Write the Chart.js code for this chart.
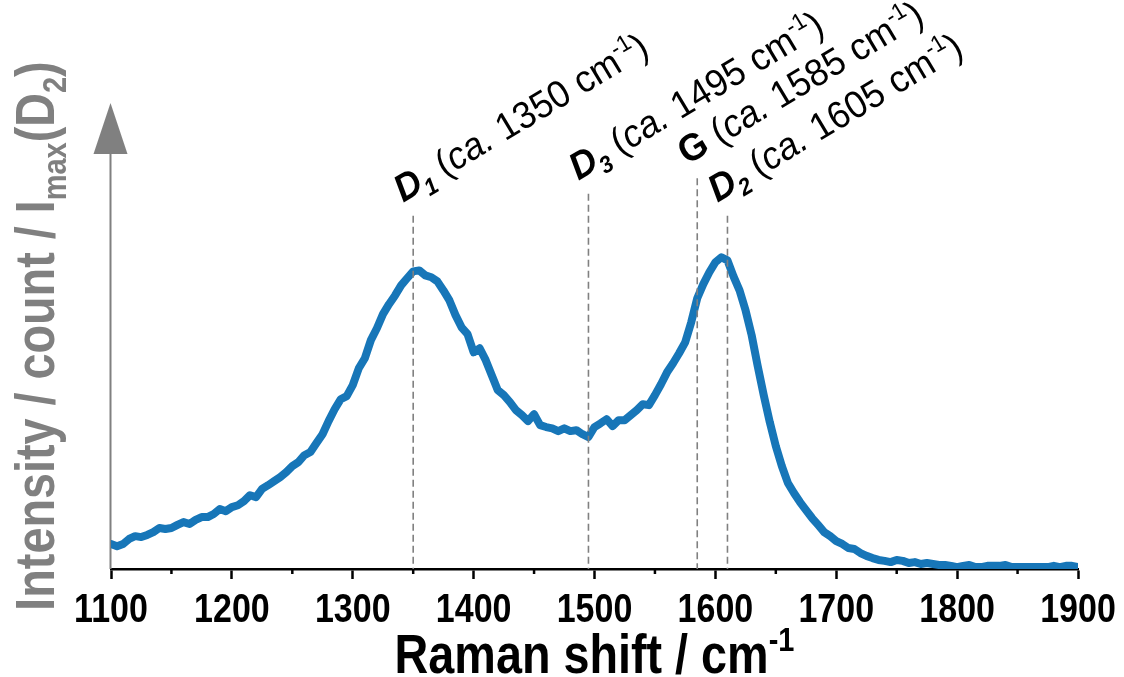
<!DOCTYPE html>
<html>
<head>
<meta charset="utf-8">
<title>Raman spectrum</title>
<script src="https://cdn.jsdelivr.net/npm/chart.js@4.4.1/dist/chart.umd.min.js"></script>
<style>
  html, body { margin: 0; padding: 0; background: #ffffff; }
  canvas { display: block; }
</style>
</head>
<body>
<canvas id="raman" width="1124" height="677"></canvas>
<script>
// Raman shift (cm-1) and normalised intensity I / Imax(D2)
const ramanShift = [
  1100,1105,1110,1115,1120,1125,1130,1135,1140,1145,
  1150,1155,1160,1165,1170,1175,1180,1185,1190,1195,
  1200,1205,1210,1215,1220,1225,1230,1235,1240,1245,
  1250,1255,1260,1265,1270,1275,1280,1285,1290,1295,
  1300,1305,1310,1315,1320,1325,1330,1335,1340,1345,
  1350,1355,1360,1365,1370,1375,1380,1385,1390,1395,
  1400,1405,1410,1415,1420,1425,1430,1435,1440,1445,
  1450,1455,1460,1465,1470,1475,1480,1485,1490,1495,
  1500,1505,1510,1515,1520,1525,1530,1535,1540,1545,
  1550,1555,1560,1565,1570,1575,1580,1585,1590,1595,
  1600,1605,1610,1615,1620,1625,1630,1635,1640,1645,
  1650,1655,1660,1665,1670,1675,1680,1685,1690,1695,
  1700,1705,1710,1715,1720,1725,1730,1735,1740,1745,
  1750,1755,1760,1765,1770,1775,1780,1785,1790,1795,
  1800,1805,1810,1815,1820,1825,1830,1835,1840,1845,
  1850,1855,1860,1865,1870,1875,1880,1885,1890,1895,
  1900
];

const intensity = [
  0.080,0.073,0.080,0.096,0.105,0.102,0.109,0.118,0.131,0.128,
  0.131,0.141,0.150,0.144,0.157,0.166,0.166,0.176,0.192,0.185,
  0.198,0.204,0.217,0.236,0.230,0.256,0.268,0.281,0.294,0.310,
  0.329,0.342,0.364,0.374,0.403,0.431,0.473,0.511,0.543,0.553,
  0.588,0.642,0.674,0.732,0.770,0.815,0.847,0.875,0.907,0.930,
  0.952,0.955,0.939,0.933,0.920,0.891,0.859,0.812,0.773,0.751,
  0.693,0.706,0.668,0.620,0.572,0.556,0.534,0.508,0.492,0.473,
  0.495,0.460,0.454,0.450,0.441,0.450,0.441,0.444,0.431,0.422,
  0.454,0.466,0.479,0.457,0.476,0.476,0.492,0.508,0.527,0.524,
  0.556,0.591,0.629,0.658,0.690,0.725,0.789,0.866,0.911,0.949,
  0.981,0.997,0.987,0.936,0.891,0.827,0.748,0.649,0.556,0.470,
  0.393,0.329,0.275,0.243,0.214,0.188,0.163,0.141,0.118,0.105,
  0.089,0.080,0.067,0.064,0.051,0.042,0.035,0.029,0.026,0.022,
  0.029,0.026,0.019,0.022,0.016,0.019,0.016,0.013,0.013,0.010,
  0.006,0.010,0.013,0.006,0.006,0.010,0.010,0.010,0.013,0.006,
  0.006,0.006,0.006,0.006,0.006,0.006,0.010,0.006,0.010,0.010,
  0.006
];

// Band positions marked with dashed lines, and their labels
const bandNames     = ['D', 'D', 'G', 'D'];
const bandSubscript = ['1', '3', '',  '2'];
const bandLabelPos  = ['1350', '1495', '1585', '1605'];
const bandLinePos   = [1350, 1495, 1585, 1610];
const bandLineTop   = [1.13, 1.20, 1.25, 1.13];

const xTicks = [1100, 1200, 1300, 1400, 1500, 1600, 1700, 1800, 1900];
const xMinorTicks = [1150, 1250, 1350, 1450, 1550, 1650, 1750, 1850];

const FONT = "'Liberation Sans', Arial, Helvetica, sans-serif";
const LINE_COLOR = '#1776b8';
const GREY = '#808080';
const NARROW = 0.85;   // horizontal condensing of the axis text

function runFont(r, size) {
  return (r.italic ? 'italic ' : '') + (r.bold ? 'bold ' : '') + size + 'px ' + FONT;
}

// Draw a sequence of text runs (with sub/superscripts) from (x, y) on the baseline
function drawRuns(ctx, runs, x, y, size, measureOnly) {
  let cx = x;
  for (const r of runs) {
    const s = (r.sub || r.sup) ? size * 0.62 : size;
    ctx.font = runFont(r, s);
    const dy = r.sub ? size * 0.22 : (r.sup ? -size * 0.40 : 0);
    if (!measureOnly) ctx.fillText(r.t, cx, y + dy);
    cx += ctx.measureText(r.t).width;
  }
  return cx - x;
}

const axisDecor = {
  id: 'axisDecor',
  beforeDatasetsDraw(chart) {
    const { ctx, chartArea, scales } = chart;
    const x = scales.x;
    ctx.save();
    // minor ticks
    ctx.strokeStyle = '#000';
    ctx.lineWidth = 2.5;
    for (const v of xMinorTicks) {
      const px = x.getPixelForValue(v);
      ctx.beginPath();
      ctx.moveTo(px, chartArea.bottom);
      ctx.lineTo(px, chartArea.bottom + 5);
      ctx.stroke();
    }
    // tick labels, condensed bold
    ctx.fillStyle = '#000';
    ctx.textAlign = 'center';
    ctx.textBaseline = 'alphabetic';
    ctx.font = 'bold 40px ' + FONT;
    for (const v of xTicks) {
      ctx.save();
      ctx.translate(x.getPixelForValue(v), 622);
      ctx.scale(NARROW, 1);
      ctx.fillText(String(v), 0, 0);
      ctx.restore();
    }
    ctx.textAlign = 'left';
    // grey intensity axis with arrow head
    const ax = chartArea.left - 0.5;
    const tip = chartArea.top + 3;
    const base = tip + 51;
    ctx.strokeStyle = GREY;
    ctx.lineWidth = 2;
    ctx.beginPath();
    ctx.moveTo(ax, chartArea.bottom);
    ctx.lineTo(ax, base);
    ctx.stroke();
    ctx.fillStyle = GREY;
    ctx.beginPath();
    ctx.moveTo(ax, tip);
    ctx.lineTo(ax + 17, base);
    ctx.lineTo(ax - 17, base);
    ctx.closePath();
    ctx.fill();
    ctx.restore();
  },
  afterDatasetsDraw(chart) {
    const { ctx, chartArea, scales } = chart;
    const x = scales.x, y = scales.y;
    ctx.save();
    // dashed band markers
    ctx.strokeStyle = GREY;
    ctx.lineWidth = 1.6;
    ctx.setLineDash([7, 4]);
    bandLinePos.forEach((v, i) => {
      const px = x.getPixelForValue(v);
      ctx.beginPath();
      ctx.moveTo(px, y.getPixelForValue(bandLineTop[i]));
      ctx.lineTo(px, chartArea.bottom);
      ctx.stroke();
    });
    ctx.setLineDash([]);

    // rotated band labels
    ctx.fillStyle = '#000';
    ctx.textBaseline = 'alphabetic';
    ctx.textAlign = 'left';
    bandLinePos.forEach((v, i) => {
      const px = x.getPixelForValue(v);
      const py = y.getPixelForValue(bandLineTop[i]);
      const runs = [];
      if (bandSubscript[i]) {
        runs.push({ t: bandNames[i], bold: true, italic: true });
        runs.push({ t: bandSubscript[i], bold: true, italic: true, sub: true });
      } else {
        runs.push({ t: bandNames[i], bold: true });
      }
      runs.push({ t: ' (' }, { t: 'ca.', italic: true }, { t: ' ' + bandLabelPos[i] + ' cm' },
                { t: '-1', sup: true }, { t: ')' });
      ctx.save();
      ctx.translate(px - 10, py - 13);
      ctx.rotate(-31 * Math.PI / 180);
      ctx.scale(0.95, 1);
      drawRuns(ctx, runs, 0, 0, 38);
      ctx.restore();
    });

    // x axis title
    const xt = [{ t: 'Raman shift / cm', bold: true }, { t: '-1', bold: true, sup: true }];
    const w = drawRuns(ctx, xt, 0, 0, 55, true) * NARROW;
    const cx = (chartArea.left + chartArea.right) / 2;
    ctx.save();
    ctx.translate(cx - w / 2, 673);
    ctx.scale(NARROW, 1);
    drawRuns(ctx, xt, 0, 0, 55);
    ctx.restore();

    // y axis title (rotated)
    const yt = [{ t: 'Intensity / count / I', bold: true }, { t: 'max', bold: true, sub: true },
                { t: '(D', bold: true }, { t: '2', bold: true, sub: true }, { t: ')', bold: true }];
    ctx.fillStyle = GREY;
    const wy = drawRuns(ctx, yt, 0, 0, 55, true);
    ctx.save();
    ctx.translate(54, 336);
    ctx.rotate(-Math.PI / 2);
    ctx.scale(NARROW, 1);
    drawRuns(ctx, yt, -wy / 2, 0, 55);
    ctx.restore();
    ctx.restore();
  }
};

new Chart(document.getElementById('raman'), {
  type: 'line',
  data: {
    datasets: [{
      data: ramanShift.map((v, i) => ({ x: v, y: intensity[i] })),
      borderColor: LINE_COLOR,
      borderWidth: 8,
      pointRadius: 0,
      tension: 0,
      fill: false,
      borderJoinStyle: 'round',
      borderCapStyle: 'round'
    }]
  },
  options: {
    responsive: false,
    animation: false,
    devicePixelRatio: 1,
    layout: { padding: { left: 111, right: 46, top: 100, bottom: 0 } },
    plugins: { legend: { display: false }, tooltip: { enabled: false } },
    scales: {
      x: {
        type: 'linear',
        min: 1100,
        max: 1900,
        afterBuildTicks: (s) => { s.ticks = xTicks.map(v => ({ value: v })); },
        afterFit: (s) => { s.height = 108; },
        ticks: { display: false },
        grid: { drawOnChartArea: false, drawTicks: true, tickLength: 10, tickColor: '#000', tickWidth: 2.5 },
        border: { color: '#000', width: 2.5 }
      },
      y: { display: false, min: 0, max: 1.5 }
    }
  },
  plugins: [axisDecor]
});
</script>
</body>
</html>
